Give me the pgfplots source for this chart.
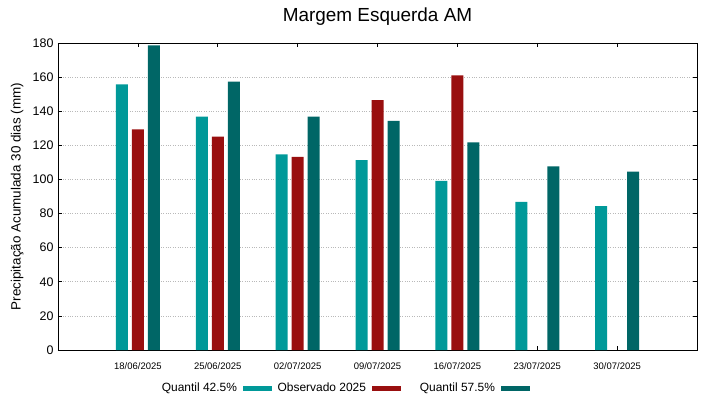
\documentclass[border=0pt]{standalone}
\usepackage{pgfplots}
\pgfplotsset{compat=1.18}
\usepackage{fontspec}
\setmainfont{Liberation Sans}
\definecolor{qlow}{HTML}{009999}
\definecolor{obs}{HTML}{990F0F}
\definecolor{qhigh}{HTML}{006666}
\begin{document}
\begin{tikzpicture}
\path[use as bounding box] (-58bp,-49bp) rectangle (661bp,350bp);
\begin{axis}[
  at={(0,0)}, anchor=south west,
  scale only axis, width=639bp, height=307bp,
  xmin=0, xmax=8, ymin=0, ymax=180,
  ybar, bar width=12bp,
  xtick={1,2,3,4,5,6,7},
  xticklabels={18/06/2025,25/06/2025,02/07/2025,09/07/2025,16/07/2025,23/07/2025,30/07/2025},
  ytick={0,20,...,180},
  tick align=inside, major tick length=4bp,
  tick style={black, line width=0.6pt},
  axis line style={black, line width=0.6pt},
  ymajorgrids, grid style={gray!55, dotted, line width=0.6pt},
  /pgf/number format/assume math mode=true,
  yticklabel style={font=\fontsize{12.5}{14}\selectfont, xshift=-1bp},
  xticklabel style={font=\fontsize{9.5}{11}\selectfont, yshift=-9bp},
  title={Margem Esquerda AM},
  title style={font=\fontsize{19}{22}\selectfont, at={(axis description cs:0.5,1)}, anchor=center, yshift=20bp},
  ylabel={Precipitação Acumulada 30 dias (mm)},
  every axis y label/.style={at={(axis description cs:-0.064,0.5)}, rotate=90, anchor=center, font=\fontsize{13.5}{15}\selectfont},
  legend plot pos=right,
  legend columns=3,
  legend style={at={(axis description cs:0.133,-0.124)}, anchor=west, draw=none, fill=none, inner sep=0pt, outer sep=0pt,
    column sep=0pt, /tikz/every odd column/.append style={column sep=6bp},
    nodes={inner sep=0pt, font=\fontsize{12}{14}\selectfont}},
  legend image code/.code={\fill[#1, draw=none] (0bp,-2.5bp) rectangle (29bp,2.5bp);},
]
\addplot[fill=qlow, draw=none, bar shift=-16bp] coordinates {(1,155.7) (2,136.8) (3,114.7) (4,111.4) (5,99.2) (6,86.8) (7,84.4)};
\addlegendentry{\makebox[94bp][r]{Quantil 42.5\%}}
\addplot[fill=obs, draw=none, bar shift=0bp] coordinates {(1,129.4) (2,125.1) (3,113.3) (4,146.5) (5,161.0)};
\addlegendentry{\makebox[94bp][r]{Observado 2025}}
\addplot[fill=qhigh, draw=none, bar shift=16bp] coordinates {(1,178.6) (2,157.3) (3,136.8) (4,134.4) (5,121.7) (6,107.7) (7,104.6)};
\addlegendentry{\makebox[94bp][r]{Quantil 57.5\%}}
\end{axis}
\end{tikzpicture}
\end{document}
